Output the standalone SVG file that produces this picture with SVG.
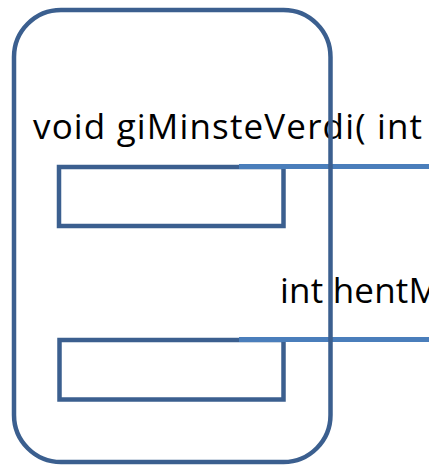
<svg xmlns="http://www.w3.org/2000/svg" width="429" height="466" viewBox="0 0 429 466">
<style>
.box{fill:none;stroke:#3b5f8f;stroke-width:4.5}
.conn{stroke:#4a7ebb;stroke-width:5;fill:none}
.lbl{font-family:"Open Sans","DejaVu Sans",sans-serif;font-size:35px;fill:#000}
</style>
<rect width="429" height="466" fill="#fff"/>
<g id="box1"><rect class="box" x="59" y="167" width="224.5" height="59"/></g>
<g id="box2"><rect class="box" x="59.5" y="340" width="224" height="59.5"/></g>
<g id="connectors">
<line class="conn" x1="239" y1="166.5" x2="429" y2="166.5"/>
<line class="conn" x1="239" y1="339.5" x2="429" y2="339.5"/>
</g>
<g id="labels">
<text class="lbl" x="33" y="139" textLength="389" lengthAdjust="spacing">void giMinsteVerdi( int</text>
<text class="lbl" x="280" y="303" textLength="160" lengthAdjust="spacing">int hentM</text>
</g>
<g id="frame"><rect class="box" x="14" y="10" width="316.5" height="452" rx="47" ry="47" stroke-width="4"/></g>
</svg>
